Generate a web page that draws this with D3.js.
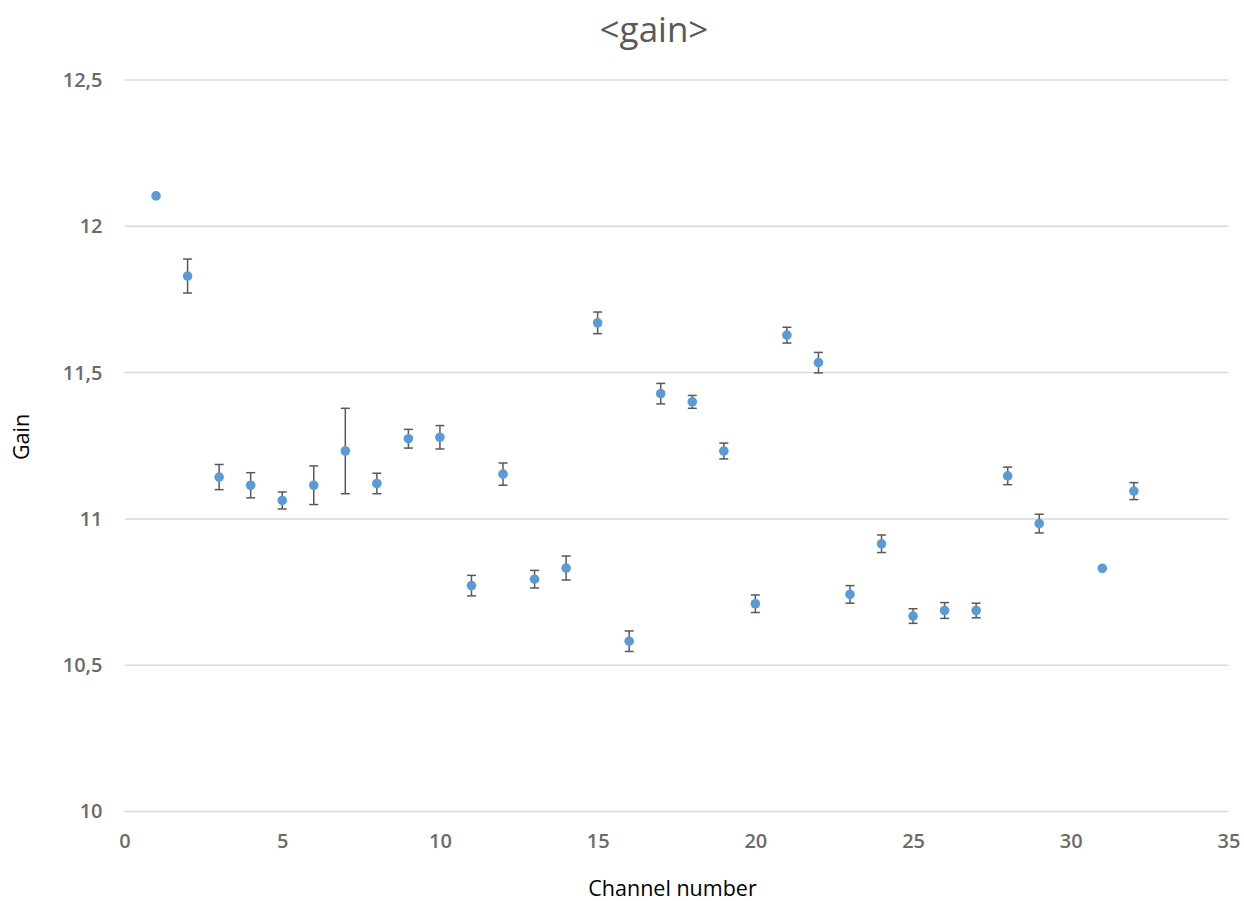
<!DOCTYPE html>
<html><head><meta charset="utf-8">
<script src="https://cdn.jsdelivr.net/npm/d3@7"></script>
<style>
html,body{margin:0;padding:0;background:#fff;}
svg{display:block;}
</style></head>
<body>
<svg id="chart" width="1244" height="901"></svg>
<script>
const channels = [1,2,3,4,5,6,7,8,9,10,11,12,13,14,15,16,17,18,19,20,21,22,23,24,25,26,27,28,29,31,32];
const gains = [12.104,11.830,11.143,11.115,11.063,11.115,11.232,11.121,11.274,11.279,10.772,11.153,10.794,10.832,11.670,10.582,11.428,11.400,11.232,10.710,11.628,11.534,10.742,10.915,10.668,10.687,10.687,11.147,10.984,10.831,11.095];
const errors = [0,0.058,0.043,0.043,0.029,0.066,0.146,0.035,0.032,0.040,0.035,0.038,0.030,0.041,0.037,0.035,0.035,0.022,0.027,0.030,0.027,0.035,0.030,0.030,0.025,0.027,0.025,0.030,0.032,0,0.029];
const xTicks = [0,5,10,15,20,25,30,35];
const yTicks = [10,10.5,11,11.5,12,12.5];
const titleText = "<gain>";
const xLabel = "Channel number";
const yLabel = "Gain";

const svg = d3.select("#chart");
const pLeft = 124.5, pRight = 1228.5, pTop = 80, pBottom = 811.5;
const x = d3.scaleLinear().domain([0,35]).range([pLeft,pRight]);
const y = d3.scaleLinear().domain([10,12.5]).range([pBottom,pTop]);
const fmt = d => String(d).replace(".", ",");
const font = "'Open Sans', 'Noto Sans', sans-serif";

// gridlines
svg.append("g").selectAll("line").data(yTicks).join("line")
  .attr("x1", pLeft).attr("x2", pRight)
  .attr("y1", d => y(d)).attr("y2", d => y(d))
  .attr("stroke", "#d9d9d9").attr("stroke-width", 1.5);

// y axis labels
const yAxis = svg.append("g").attr("transform", `translate(${pLeft},0)`)
  .call(d3.axisLeft(y).tickValues(yTicks).tickFormat(fmt).tickSize(0).tickPadding(22));
yAxis.select(".domain").remove();
yAxis.selectAll("text").attr("font-family", font).attr("font-size", 20).attr("font-weight", 600).attr("fill", "#6b6b6b");

// x axis labels
const xAxis = svg.append("g").attr("transform", `translate(0,${pBottom})`)
  .call(d3.axisBottom(x).tickValues(xTicks).tickFormat(fmt).tickSize(0).tickPadding(22));
xAxis.select(".domain").remove();
xAxis.selectAll("text").attr("font-family", font).attr("font-size", 20).attr("font-weight", 600).attr("fill", "#6b6b6b");

// data
const data = channels.map((c,i) => ({c, g: gains[i], e: errors[i]}));
const eb = svg.append("g").selectAll("g").data(data.filter(d => d.e > 0)).join("g")
  .attr("stroke", "#595959").attr("stroke-width", 1.5);
eb.append("line").attr("x1", d => x(d.c)).attr("x2", d => x(d.c))
  .attr("y1", d => y(d.g + d.e)).attr("y2", d => y(d.g - d.e));
eb.append("line").attr("x1", d => x(d.c) - 4.5).attr("x2", d => x(d.c) + 4.5)
  .attr("y1", d => y(d.g + d.e)).attr("y2", d => y(d.g + d.e));
eb.append("line").attr("x1", d => x(d.c) - 4.5).attr("x2", d => x(d.c) + 4.5)
  .attr("y1", d => y(d.g - d.e)).attr("y2", d => y(d.g - d.e));

svg.append("g").selectAll("circle").data(data).join("circle")
  .attr("cx", d => x(d.c)).attr("cy", d => y(d.g)).attr("r", 4.8)
  .attr("fill", "#5b9bd5");

// title
svg.append("text").attr("x", 654).attr("y", 42).attr("text-anchor", "middle")
  .attr("font-family", font).attr("font-size", 35).attr("fill", "#595959")
  .text(titleText);

svg.append("text").attr("x", 672.5).attr("y", 896).attr("text-anchor", "middle")
  .attr("font-family", font).attr("font-size", 21.5).attr("fill", "#000")
  .text(xLabel);

svg.append("text").attr("transform", "translate(29,437) rotate(-90)").attr("text-anchor", "middle")
  .attr("font-family", font).attr("font-size", 21.5).attr("fill", "#000")
  .text(yLabel);
</script>
</body></html>
